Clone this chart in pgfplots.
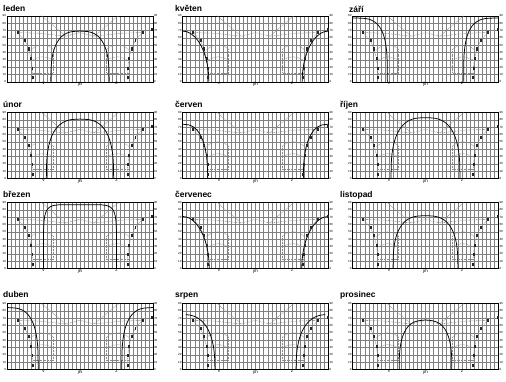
\documentclass[border=0pt]{standalone}
\usepackage{fontspec}
\setmainfont{Liberation Sans}
\usepackage{pgfplots}
\pgfplotsset{compat=1.18}
\pgfplotsset{
 panel/.style={scale only axis, width=146bp, height=66bp, xmin=-180, xmax=180, ymin=0, ymax=90,
   xtick={-90,0,90}, xticklabels={v,jih,z}, ytick={0,10,...,90}, ytick pos=left, xtick pos=bottom,
   minor xtick={-180,-170,...,180}, xminorgrids=true, xmajorgrids=true, ymajorgrids=true,
   grid style={black!50, line width=0.25pt}, minor grid style={black!50, line width=0.25pt},
   axis line style={black, line width=0.4pt}, tick style={draw=none}, major tick length=1bp,
   xticklabel style={font=\fontsize{4.5}{4.5}\selectfont, inner sep=0.6bp},
   yticklabel style={font=\fontsize{3}{3}\selectfont, inner sep=0.8bp},
   /pgf/number format/assume math mode=true, clip=true},
 rightlab/.style={scale only axis, width=146bp, height=66bp, xmin=-180, xmax=180, ymin=0, ymax=90,
   ytick={0,10,...,90}, yticklabel pos=right, xtick=\empty, axis line style={draw=none},
   tick style={draw=none}, major tick length=1bp,
   yticklabel style={font=\fontsize{3}{3}\selectfont, inner sep=0.8bp},
   /pgf/number format/assume math mode=true},
 gs/.style={black!45, dash pattern=on 0.7pt off 0.7pt, line width=0.55pt},
 bc/.style={black, line width=0.75pt, smooth, tension=0.5},
}
\newcommand{\graystuff}{%
 \addplot[gs] coordinates {(-154,67) (-136,56) (-127,45) (-121,32) (-118,19) (-117,3)};
 \addplot[gs] coordinates {(154,67) (136,56) (127,45) (121,32) (118,19) (117,3)};
 \addplot[gs] coordinates {(-95,90) (-35,62) (0,67) (35,62) (95,90)};
 \addplot[gs] coordinates {(-154,67) (-100,66) (-35,62)};
 \addplot[gs] coordinates {(154,67) (100,66) (35,62)};
 \addplot[gs, smooth] coordinates {(-122,43) (-108,48.5) (-92,50) (-76,48) (-66,44)};
 \addplot[gs] coordinates {(-66,44) (-66,12) (-120,12)};
 \addplot[gs, smooth] coordinates {(-120,29) (-93,34) (-66,30)};
 \addplot[gs, smooth] coordinates {(122,43) (108,48.5) (92,50) (76,48) (66,44)};
 \addplot[gs] coordinates {(66,44) (66,12) (120,12)};
 \addplot[gs, smooth] coordinates {(120,29) (93,34) (66,30)};
 \addplot[only marks, mark=square*, mark size=0.7pt, mark options={xscale=0.6, yscale=1.5}, black!85]
   coordinates {(-154,67) (-136,56) (-127,45) (-121,32) (-118,19) (-117,6)
                (154,67) (136,56) (127,45) (121,32) (118,19) (117,6) (177,71)};
}
\newcommand{\panel}[6]{%
 \begin{axis}[panel, at={(#1bp,-#2bp)}, anchor=north west]
 \graystuff
 #6
 \end{axis}
 \begin{axis}[rightlab, at={(#1bp,-#2bp)}, anchor=north west]
 \end{axis}
 \node[anchor=base west, inner sep=0pt, font=\fontsize{8.5}{8.5}\selectfont\bfseries] at (#3bp,-#4bp) {#5};
}
\begin{document}
\begin{tikzpicture}
\path[use as bounding box] (0bp,0bp) rectangle (506bp,-382bp);
% ---------- left column
\panel{7}{15.7}{3}{11.5}{leden}{%
 \addplot[bc] coordinates {(-72,0) (-71.2,19.8) (-68.9,32.1) (-65.0,42.1) (-59.5,50.3) (-52.5,57.0) (-43.9,62.3) (-33.5,66.0) (-20.6,68.2) (0,69) (20.6,68.2) (33.5,66.0) (43.9,62.3) (52.5,57.0) (59.5,50.3) (65.0,42.1) (68.9,32.1) (71.2,19.8) (72,0)};}
\panel{7}{112.5}{3}{107.5}{únor}{%
 \addplot[bc] coordinates {(-83,0) (-82.1,23.2) (-79.4,37.6) (-74.9,49.4) (-68.6,59.1) (-60.5,67.0) (-50.6,73.1) (-38.6,77.5) (-23.8,80.1) (0,81) (23.8,80.1) (38.6,77.5) (50.6,73.1) (60.5,67.0) (68.6,59.1) (74.9,49.4) (79.4,37.6) (82.1,23.2) (83,0)};}
\panel{7}{202.5}{3}{197}{březen}{%
 \addplot[bc] coordinates {(-90,0) (-89.9,45.4) (-89.6,54.5) (-88.5,65.4) (-86.6,72.3) (-85.3,75.0) (-83.8,77.3) (-82.1,79.3) (-80.0,81.0) (-77.6,82.5) (-74.8,83.7) (-67.6,85.6) (-56.4,86.6) (-47.0,86.9) (0,87) (47.0,86.9) (56.4,86.6) (67.6,85.6) (74.8,83.7) (77.6,82.5) (80.0,81.0) (82.1,79.3) (83.8,77.3) (85.3,75.0) (86.6,72.3) (88.5,65.4) (89.6,54.5) (89.9,45.4) (90,0)};}
\panel{7}{303.5}{3}{297.5}{duben}{%
 \addplot[bc] coordinates {(-180,84.5) (-156.0,83.6) (-142.3,81.1) (-131.5,76.8) (-122.7,70.7) (-115.5,62.9) (-110.0,53.2) (-106.1,41.3) (-103.8,26.3) (-103,0)};
 \addplot[bc] coordinates {(180,84.5) (156.0,83.6) (142.3,81.1) (131.5,76.8) (122.7,70.7) (115.5,62.9) (110.0,53.2) (106.1,41.3) (103.8,26.3) (103,0)};}
% ---------- middle column
\panel{182.5}{15.7}{175}{11.5}{květen}{%
 \addplot[bc] coordinates {(-180,69) (-168.7,68.0) (-157.8,64.8) (-147.5,59.8) (-138.2,52.9) (-130.2,44.4) (-123.7,34.5) (-118.9,23.6) (-116.0,12.0) (-115,0)};
 \addplot[bc] coordinates {(180,69) (168.7,68.0) (157.8,64.8) (147.5,59.8) (138.2,52.9) (130.2,44.4) (123.7,34.5) (118.9,23.6) (116.0,12.0) (115,0)};}
\panel{182.5}{112.5}{175}{107.5}{červen}{%
 \addplot[bc] coordinates {(-180,74) (-164.7,73.1) (-153.7,70.4) (-144.4,66.0) (-136.5,59.8) (-129.9,52.0) (-124.7,42.5) (-121.0,31.4) (-118.8,18.2) (-118,0)};
 \addplot[bc] coordinates {(180,74) (164.7,73.1) (153.7,70.4) (144.4,66.0) (136.5,59.8) (129.9,52.0) (124.7,42.5) (121.0,31.4) (118.8,18.2) (118,0)};}
\panel{182.5}{202.5}{175}{197}{červenec}{%
 \addplot[bc] coordinates {(-180,71) (-168.5,69.9) (-157.4,66.7) (-147,61.5) (-137.6,54.4) (-129.4,45.6) (-122.8,35.5) (-118,24.3) (-115,12.3) (-114,0)};
 \addplot[bc] coordinates {(180,71) (168.5,69.9) (157.4,66.7) (147,61.5) (137.6,54.4) (129.4,45.6) (122.8,35.5) (118,24.3) (115,12.3) (114,0)};}
\panel{182.5}{303.5}{175}{297.5}{srpen}{%
 \addplot[bc] coordinates {(-172,74.7) (-160.3,74.1) (-146.1,71.4) (-134.1,66.8) (-123.8,60.6) (-115.4,52.7) (-108.7,43.1) (-103.9,31.8) (-101.0,18.5) (-100,0)};
 \addplot[bc] coordinates {(172,74.7) (160.3,74.1) (146.1,71.4) (134.1,66.8) (123.8,60.6) (115.4,52.7) (108.7,43.1) (103.9,31.8) (101.0,18.5) (100,0)};}
% ---------- right column
\panel{352.5}{15.7}{349}{12.5}{září}{%
 \addplot[bc] coordinates {(-180,87) (-148.4,86.2) (-133.4,84.0) (-122.1,80.1) (-113.2,74.7) (-106.2,67.6) (-100.8,58.6) (-97.0,47.1) (-94.7,32.0) (-94,0)};
 \addplot[bc] coordinates {(180,87) (148.4,86.2) (133.4,84.0) (122.1,80.1) (113.2,74.7) (106.2,67.6) (100.8,58.6) (97.0,47.1) (94.7,32.0) (94,0)};}
\panel{352.5}{112.5}{340}{107.5}{říjen}{%
 \addplot[bc] coordinates {(-85,0) (-84.1,23.8) (-81.3,38.6) (-76.7,50.6) (-70.3,60.5) (-62.0,68.6) (-51.8,74.9) (-39.5,79.4) (-24.3,82.1) (0,83) (24.3,82.1) (39.5,79.4) (51.8,74.9) (62.0,68.6) (70.3,60.5) (76.7,50.6) (81.3,38.6) (84.1,23.8) (85,0)};}
\panel{352.5}{202.5}{340}{197}{listopad}{%
 \addplot[bc] coordinates {(-80,0) (-79.1,20.6) (-76.5,33.5) (-72.2,43.9) (-66.1,52.5) (-58.3,59.5) (-48.8,65.0) (-37.2,68.9) (-22.9,71.2) (0,72) (22.9,71.2) (37.2,68.9) (48.8,65.0) (58.3,59.5) (66.1,52.5) (72.2,43.9) (76.5,33.5) (79.1,20.6) (80,0)};}
\panel{352.5}{303.5}{340}{297.5}{prosinec}{%
 \addplot[bc] coordinates {(-65,0) (-64.3,19.2) (-62.2,31.1) (-58.7,40.8) (-53.7,48.9) (-47.4,55.4) (-39.6,60.5) (-30.2,64.1) (-18.6,66.3) (0,67.5) (18.6,66.3) (30.2,64.1) (39.6,60.5) (47.4,55.4) (53.7,48.9) (58.7,40.8) (62.2,31.1) (64.3,19.2) (65,0)};}
\end{tikzpicture}
\end{document}
